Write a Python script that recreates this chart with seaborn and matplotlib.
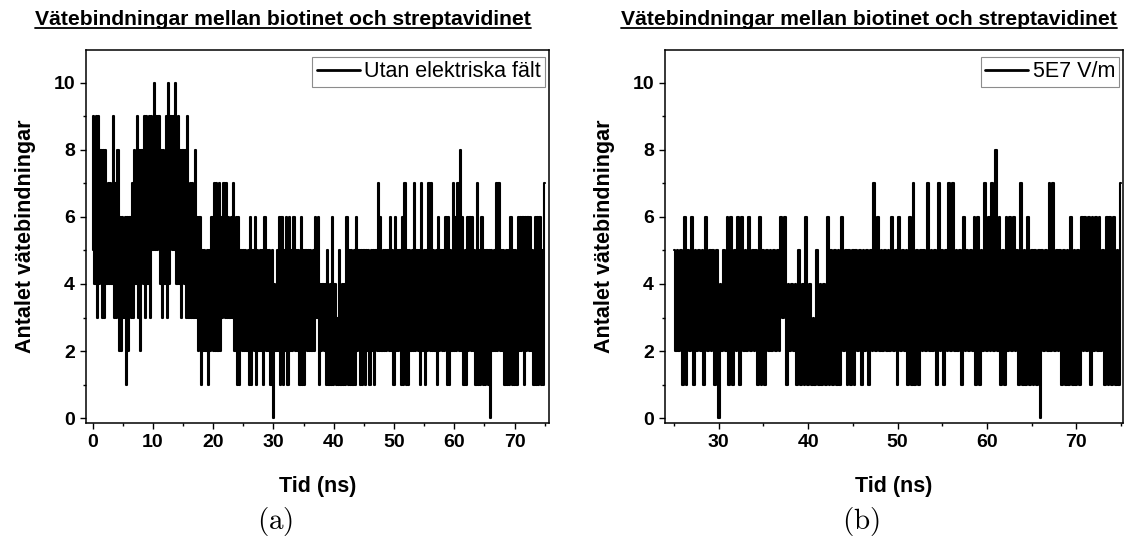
import matplotlib
matplotlib.use("Agg")
import matplotlib.pyplot as plt
from matplotlib.lines import Line2D
from matplotlib.ticker import MultipleLocator
import numpy as np
import pandas as pd
import seaborn as sns

HB_GROUPS = [
    [5, 9, 4, 9, 3], [9, 4, 8, 3, 8], [3, 8, 4, 7, 4], [7, 4, 9, 3, 7], [3, 8, 2, 6, 2],
    [6, 3, 6, 1, 6], [2, 6, 3, 7, 3], [8, 4, 9, 3, 8], [2, 8, 4, 9, 3], [9, 4, 9, 3, 9],
    [5, 10, 5, 9, 5], [9, 4, 8, 3, 8], [4, 9, 3, 10, 4], [9, 5, 9, 5, 10], [4, 9, 4, 8, 3],
    [8, 4, 8, 3, 9], [3, 7, 3, 7, 3], [8, 3, 6, 2, 6], [1, 5, 2, 5, 2], [5, 1, 5, 2, 6],
    [2, 7, 2, 7, 2], [7, 2, 6, 3, 7], [3, 7, 3, 6, 3], [6, 3, 7, 2, 6], [1, 6, 1, 5, 2],
    [5, 2, 5, 2, 5], [1, 6, 1, 5, 2], [6, 1, 5, 2, 5], [2, 5, 1, 6, 2], [5, 2, 5, 1, 5],
    [0, 4, 2, 5, 2], [6, 1, 6, 1, 5], [2, 6, 1, 6, 2], [5, 2, 6, 2, 5], [2, 5, 1, 6, 1],
    [5, 1, 5, 2, 5], [2, 5, 2, 5, 2], [6, 3, 6, 1, 4], [2, 4, 2, 4, 1], [5, 1, 4, 1, 6],
    [1, 4, 1, 3, 1], [5, 1, 4, 1, 4], [1, 6, 1, 5, 1], [5, 1, 5, 1, 6], [2, 5, 1, 5, 1],
    [5, 1, 5, 2, 5], [1, 5, 2, 5, 1], [5, 2, 7, 2, 6], [2, 5, 2, 5, 2], [5, 2, 6, 2, 5],
    [1, 6, 2, 5, 2], [5, 1, 6, 1, 7], [1, 5, 1, 5, 2], [5, 2, 7, 2, 5], [2, 5, 1, 7, 2],
    [5, 1, 5, 2, 7], [2, 7, 2, 5, 2], [5, 1, 6, 2, 5], [2, 5, 2, 6, 1], [6, 1, 5, 2, 7],
    [2, 6, 2, 7, 2], [8, 2, 6, 1, 5], [1, 6, 2, 6, 2], [6, 2, 5, 1, 7], [1, 5, 1, 6, 1],
    [5, 1, 5, 1, 5], [0, 5, 2, 5, 2], [7, 2, 7, 2, 5], [2, 5, 1, 5, 1], [5, 1, 6, 1, 5],
    [1, 5, 1, 6, 2], [6, 2, 6, 1, 6], [2, 6, 2, 6, 2], [5, 1, 6, 1, 6], [1, 6, 1, 5, 1],
    [7],
]
TIME_STEP = 0.2
FIELD_START = 25.0

TITLE = "Vätebindningar mellan biotinet och streptavidinet"
XLABEL = "Tid (ns)"
YLABEL = "Antalet vätebindningar"
LABELS = ["Utan elektriska fält", "5E7 V/m"]
PANELS = ["(a)", "(b)"]

hb = [v for g in HB_GROUPS for v in g]
df = pd.DataFrame({"Tid": np.round(np.arange(len(hb)) * TIME_STEP, 1), "HB": hb})
df_b = df[df["Tid"] >= FIELD_START]

sns.set_theme(style="ticks")
plt.rcParams["font.family"] = ["Liberation Sans", "DejaVu Sans"]
plt.rcParams["font.weight"] = "bold"
plt.rcParams["mathtext.fontset"] = "cm"
for key in ["axes.edgecolor", "xtick.color", "ytick.color", "text.color", "axes.labelcolor"]:
    plt.rcParams[key] = "black"

W, H = 1130, 544
fig = plt.figure(figsize=(W / 100, H / 100), dpi=100)
ax_a = fig.add_axes([86 / W, 1 - 423.3 / H, 463 / W, 373.3 / H])
ax_b = fig.add_axes([665 / W, 1 - 423.3 / H, 458.3 / W, 373.3 / H])

setups = [
    (ax_a, df, (-1.1, 75.7), 0.9914, -0.108, 283),
    (ax_b, df_b, (24.0, 75.25), 0.9913, -0.109, 869),
]

for i, (ax, d, xlim, leg_x, ylab_x, title_x) in enumerate(setups):
    sns.lineplot(data=d, x="Tid", y="HB", ax=ax, color="black", lw=1.5,
                 drawstyle="steps-mid", estimator=None, legend=False)
    ax.set_xlim(*xlim)
    ax.set_ylim(-0.15, 10.97)
    ax.xaxis.set_major_locator(MultipleLocator(10))
    ax.xaxis.set_minor_locator(MultipleLocator(5))
    ax.yaxis.set_major_locator(MultipleLocator(2))
    ax.yaxis.set_minor_locator(MultipleLocator(1))
    ax.tick_params(which="major", direction="out", length=4.5, width=1,
                   labelsize=14, top=False, right=False)
    ax.tick_params(which="minor", direction="out", length=2.5, width=1,
                   top=False, right=False)
    for sp in ax.spines.values():
        sp.set_linewidth(1.1)
        sp.set_visible(True)
    ax.set_xlabel(XLABEL, fontsize=15.5, fontweight="bold")
    ax.set_ylabel(YLABEL, fontsize=15.5, fontweight="bold")
    ax.xaxis.set_label_coords(0.5, -0.14)
    ax.yaxis.set_label_coords(ylab_x, 0.5)

    leg = ax.legend([ax.lines[0]], [LABELS[i]], loc="upper right",
                    bbox_to_anchor=(leg_x, 0.981), borderaxespad=0,
                    prop={"size": 15.5, "weight": "normal"}, fancybox=False,
                    framealpha=1, edgecolor="#8c8c8c", borderpad=0.2,
                    handlelength=2.0, handletextpad=0.2)
    leg.get_frame().set_linewidth(0.8)
    for ln in leg.get_lines():
        ln.set_linewidth(2)

    fig.text(title_x / W, 1 - 25 / H, TITLE, ha="center", va="baseline",
             fontsize=15.2, fontweight="bold")
    fig.text((title_x - 8) / W, 1 - 521 / H, r"$\mathrm{" + PANELS[i] + "}$",
             ha="center", va="center", fontsize=21)

# underline the titles
fig.canvas.draw()
renderer = fig.canvas.get_renderer()
for t in fig.texts[:]:
    if t.get_text() == TITLE:
        bb = t.get_window_extent(renderer)
        y = (1 - 28 / H)
        fig.add_artist(Line2D([bb.x0 / W, bb.x1 / W], [y, y], color="black",
                              lw=1.3, transform=fig.transFigure))

fig.savefig("out.png", dpi=100)
